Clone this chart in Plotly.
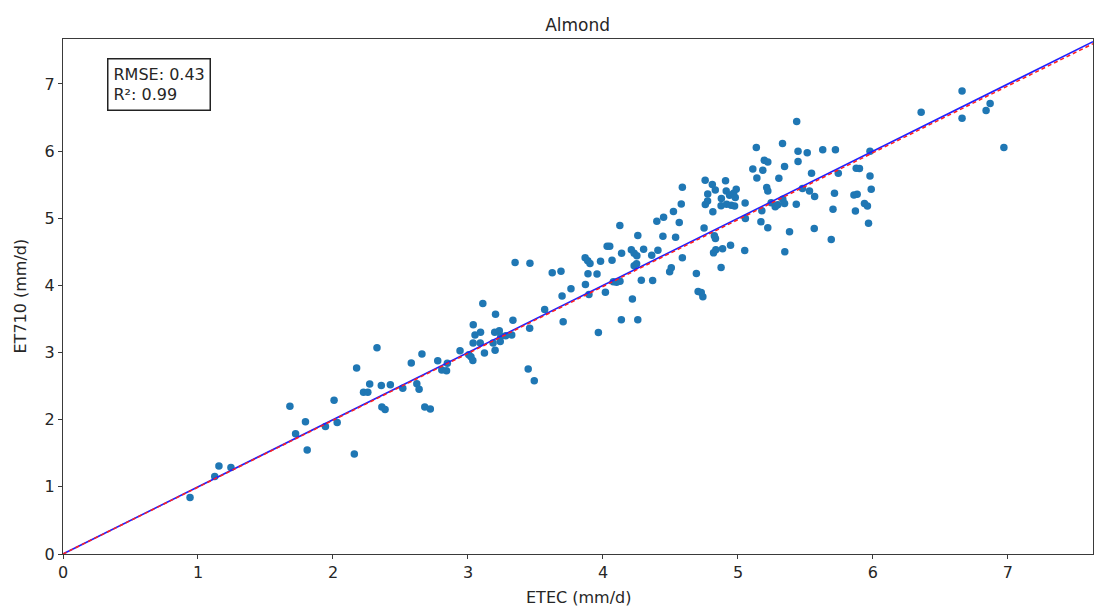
import plotly.graph_objects as go

# Data (ETEC vs ET710, mm/d)
etec = [0.941, 1.124, 1.155, 1.244, 1.681, 1.723, 1.796, 1.809, 1.944, 2.008,
        2.031, 2.158, 2.175, 2.226, 2.258, 2.272, 2.326, 2.358, 2.362, 2.386,
        2.425, 2.517, 2.580, 2.621, 2.638, 2.659, 2.680, 2.721, 2.776, 2.806,
        2.841, 2.847, 2.941, 3.006, 3.022, 3.036, 3.038, 3.039, 3.052, 3.091,
        3.093, 3.110, 3.122, 3.186, 3.198, 3.201, 3.204, 3.232, 3.243, 3.239,
        3.280, 3.324, 3.333, 3.349, 3.446, 3.457, 3.459, 3.491, 3.568, 3.624,
        3.689, 3.697, 3.705, 3.763, 3.870, 3.868, 3.887, 3.904, 3.889, 3.896,
        3.956, 3.966, 3.982, 4.018, 4.031, 4.050, 4.067, 4.077, 4.101, 4.126,
        4.125, 4.136, 4.138, 4.210, 4.231, 4.251, 4.218, 4.231, 4.249, 4.258,
        4.258, 4.284, 4.301, 4.361, 4.368, 4.399, 4.407, 4.449, 4.444, 4.494,
        4.506, 4.522, 4.538, 4.565, 4.580, 4.588, 4.588, 4.692, 4.705, 4.728,
        4.740, 4.749, 4.757, 4.758, 4.775, 4.776, 4.810, 4.832, 4.814, 4.825,
        4.833, 4.819, 4.836, 4.875, 4.877, 4.875, 4.886, 4.908, 4.913, 4.938,
        4.967, 4.987, 4.950, 4.975, 4.916, 4.980, 4.945, 5.053, 5.050, 5.055,
        5.110, 5.136, 5.140, 5.170, 5.177, 5.184, 5.195, 5.221, 5.213, 5.221,
        5.221, 5.246, 5.276, 5.295, 5.303, 5.330, 5.345, 5.332, 5.345, 5.347,
        5.382, 5.432, 5.435, 5.445, 5.445, 5.478, 5.513, 5.545, 5.530, 5.568,
        5.565, 5.628, 5.691, 5.704, 5.715, 5.722, 5.743, 5.859, 5.883, 5.870,
        5.876, 5.900, 5.937, 5.959, 5.967, 5.978, 5.987, 5.978, 6.357, 6.660,
        6.660, 6.838, 6.868, 6.970]
et710 = [0.842, 1.153, 1.310, 1.287, 2.201, 1.791, 1.971, 1.549, 1.900, 2.291,
         1.959, 1.489, 2.770, 2.410, 2.410, 2.530, 3.070, 2.509, 2.188, 2.151,
         2.519, 2.470, 2.843, 2.534, 2.455, 2.978, 2.191, 2.161, 2.878, 2.740,
         2.728, 2.840, 3.027, 2.967, 2.938, 2.881, 3.142, 3.415, 3.262, 3.142,
         3.303, 3.729, 2.993, 3.142, 3.303, 3.035, 3.569, 3.326, 3.244, 3.166,
         3.251, 3.262, 3.483, 4.341, 2.755, 3.363, 4.331, 2.579, 3.640, 4.188,
         4.211, 3.841, 3.460, 3.949, 4.013, 4.413, 4.368, 4.326, 4.174, 3.863,
         4.170, 3.300, 4.359, 3.898, 4.585, 4.585, 4.376, 4.055, 4.047, 4.062,
         4.894, 3.490, 4.480, 4.531, 4.480, 4.441, 3.799, 4.292, 4.323, 4.745,
         3.490, 4.077, 4.540, 4.450, 4.073, 4.957, 4.524, 5.016, 4.734, 4.204,
         4.262, 5.100, 4.718, 4.936, 5.211, 5.461, 4.412, 4.177, 3.908, 3.893,
         3.831, 4.854, 5.566, 5.205, 5.257, 5.360, 5.503, 5.420, 5.096, 4.740,
         4.697, 4.486, 4.531, 4.267, 5.294, 5.188, 4.547, 5.559, 5.406, 5.342,
         5.372, 5.432, 5.193, 5.182, 5.208, 5.308, 4.600, 5.227, 4.521, 4.995,
         5.735, 6.054, 5.600, 4.949, 5.113, 5.715, 5.865, 5.839, 5.457, 5.406,
         4.860, 5.233, 5.173, 5.203, 5.596, 6.114, 5.771, 5.282, 5.220, 4.501,
         4.800, 5.208, 6.443, 5.999, 5.845, 5.442, 5.977, 5.671, 5.406, 5.323,
         4.849, 6.019, 4.685, 5.133, 5.372, 6.022, 5.671, 5.346, 5.357, 5.108,
         5.745, 5.742, 5.220, 5.182, 4.927, 5.629, 5.432, 5.999, 6.579, 6.895,
         6.489, 6.604, 6.708, 6.054]

x_range = [0, 7.63]
y_range = [0, 7.67]
tick_vals = [0, 1, 2, 3, 4, 5, 6, 7]
fit_slope = 0.996
fit_intercept = 0.0
rmse_text = "RMSE: 0.43"
r2_text = "R²: 0.99"
title_text = "Almond"
x_label = "ETEC (mm/d)"
y_label = "ET710 (mm/d)"

FONT = "DejaVu Sans"
TXT = "#262626"
AX = "#3a3a3a"

fig = go.Figure()

fig.add_trace(go.Scatter(
    x=etec, y=et710, mode="markers",
    marker=dict(color="#1f77b4", size=7.5, line=dict(width=0)),
    showlegend=False, hoverinfo="skip"))

# 1:1 line
fig.add_trace(go.Scatter(
    x=[x_range[0], x_range[1]], y=[x_range[0], x_range[1]], mode="lines",
    line=dict(color="#2020ff", width=1.6), showlegend=False, hoverinfo="skip"))

# regression line
fx = [x_range[0], x_range[1]]
fy = [fit_slope * v + fit_intercept for v in fx]
fig.add_trace(go.Scatter(
    x=fx, y=fy, mode="lines",
    line=dict(color="#ff2020", width=1.5, dash="4px,3px"),
    showlegend=False, hoverinfo="skip"))

axis_common = dict(
    showgrid=False, zeroline=False, showline=True, mirror=True,
    linecolor=AX, linewidth=1.3, ticks="outside", ticklen=4, tickwidth=1.2,
    tickcolor=AX, tickvals=tick_vals,
    tickfont=dict(family=FONT, size=16, color=TXT))

fig.update_layout(
    width=1094, height=612,
    margin=dict(l=63, r=1, t=39, b=58),
    plot_bgcolor="white", paper_bgcolor="white",
    font=dict(family=FONT, color=TXT),
    xaxis=dict(range=x_range, **axis_common),
    yaxis=dict(range=y_range, **axis_common),
    title=dict(text=title_text, x=0.528, xanchor="center",
               y=1 - 25 / 612, yanchor="middle",
               font=dict(family=FONT, size=17, color=TXT)),
)

fig.add_annotation(
    xref="paper", yref="paper", x=0.5, y=0, yshift=-43,
    xanchor="center", yanchor="middle", showarrow=False,
    text=x_label, font=dict(family=FONT, size=16, color=TXT))
fig.add_annotation(
    xref="paper", yref="paper", x=0, y=0.5, xshift=-43,
    xanchor="center", yanchor="middle", showarrow=False, textangle=-90,
    text=y_label, font=dict(family=FONT, size=16, color=TXT))

fig.add_annotation(
    xref="paper", yref="paper", x=0.0428, y=0.964,
    xanchor="left", yanchor="top", showarrow=False, align="left",
    text=rmse_text + "<br>" + r2_text,
    font=dict(family=FONT, size=16, color=TXT),
    bordercolor="#222222", borderwidth=1.5, borderpad=5, bgcolor="white")

fig.write_html("out.html")
